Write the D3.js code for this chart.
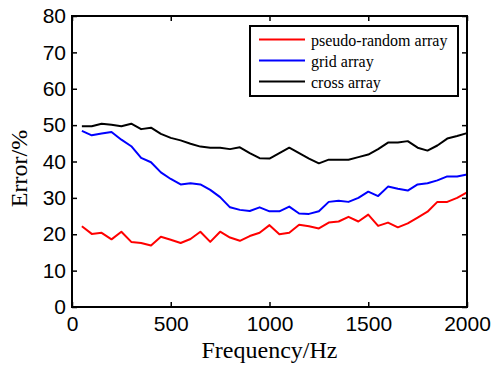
<!DOCTYPE html>
<html>
<head>
<meta charset="utf-8">
<script src="https://cdn.jsdelivr.net/npm/d3@7"></script>
<style>
  html, body { margin: 0; padding: 0; background: #fff; }
  svg { display: block; }
</style>
</head>
<body>
<svg id="chart" width="491" height="366"></svg>
<script>
// frequencies (Hz), one point every 50 Hz
const freqs = d3.range(50, 2001, 50)

const pseudoRandom = [
  22.2, 20.1, 20.4, 18.6, 20.7, 17.9, 17.6, 16.9, 19.3, 18.5,
  17.6, 18.7, 20.7, 17.9, 20.7, 19.1, 18.2, 19.5, 20.4, 22.5,
  20.0, 20.4, 22.6, 22.2, 21.6, 23.2, 23.5, 24.8, 23.5, 25.4,
  22.3, 23.2, 21.9, 23.0, 24.6, 26.2, 28.9, 28.9, 30.0, 31.5
]
const gridArray = [
  48.4, 47.2, 47.7, 48.1, 46.0, 44.2, 41.0, 39.8, 37.0, 35.2,
  33.7, 34.0, 33.7, 32.2, 30.2, 27.4, 26.7, 26.4, 27.4, 26.3,
  26.3, 27.6, 25.7, 25.6, 26.3, 28.9, 29.2, 28.9, 30.0, 31.7,
  30.5, 33.1, 32.5, 32.0, 33.7, 34.0, 34.8, 35.9, 35.9, 36.4
]
const crossArray = [
  49.7, 49.7, 50.4, 50.1, 49.7, 50.4, 48.9, 49.3, 47.6, 46.5,
  45.8, 44.9, 44.1, 43.8, 43.8, 43.4, 43.9, 42.3, 40.9, 40.8,
  42.3, 43.8, 42.3, 40.8, 39.5, 40.5, 40.5, 40.5, 41.2, 41.9,
  43.4, 45.2, 45.2, 45.6, 43.8, 43.0, 44.4, 46.3, 47.0, 47.8
]

const seriesNames = ['pseudo-random array', 'grid array', 'cross array']
const seriesColors = ['#ff0000', '#0000ff', '#000000']
const xTicks = [0, 500, 1000, 1500, 2000]
const yTicks = [0, 10, 20, 30, 40, 50, 60, 70, 80]

const margin = { left: 72, right: 24, top: 16, bottom: 59 }
const width = 491, height = 366

const svg = d3.select('#chart')

const x = d3.scaleLinear().domain([0, 2000]).range([margin.left, width - margin.right])
const y = d3.scaleLinear().domain([0, 80]).range([height - margin.bottom, margin.top])

const tickFont = '"Liberation Sans", Arial, sans-serif'
const serif = '"Liberation Serif", "Times New Roman", serif'

// data lines
const series = [pseudoRandom, gridArray, crossArray]
const line = d3.line()
  .x((d, i) => x(freqs[i]))
  .y(d => y(d))

svg.append('g')
  .selectAll('path')
  .data(series)
  .join('path')
  .attr('d', d => line(d))
  .attr('fill', 'none')
  .attr('stroke', (d, i) => seriesColors[i])
  .attr('stroke-width', 2)
  .attr('stroke-linejoin', 'round')

// axes (MATLAB style: ticks inward, box)
const axisStyle = g => {
  g.select('.domain').remove()
  g.selectAll('.tick line').attr('stroke', '#000').attr('stroke-width', 1.5)
  g.selectAll('.tick text')
    .attr('font-family', tickFont)
    .attr('font-size', 21)
    .attr('fill', '#000')
}

svg.append('g')
  .attr('transform', `translate(0,${y(0)})`)
  .call(d3.axisBottom(x).tickValues(xTicks).tickSize(-5).tickPadding(9).tickFormat(d3.format('d')))
  .call(axisStyle)

svg.append('g')
  .attr('transform', `translate(0,${y(80)})`)
  .call(d3.axisTop(x).tickValues(xTicks).tickSize(-5).tickFormat(''))
  .call(axisStyle)

svg.append('g')
  .attr('transform', `translate(${x(0)},0)`)
  .call(d3.axisLeft(y).tickValues(yTicks).tickSize(-5).tickPadding(6))
  .call(axisStyle)

svg.append('g')
  .attr('transform', `translate(${x(2000)},0)`)
  .call(d3.axisRight(y).tickValues(yTicks).tickSize(-5).tickFormat(''))
  .call(axisStyle)

svg.append('rect')
  .attr('x', x(0))
  .attr('y', y(80))
  .attr('width', x(2000) - x(0))
  .attr('height', y(0) - y(80))
  .attr('fill', 'none')
  .attr('stroke', '#000')
  .attr('stroke-width', 2)

// axis labels
svg.append('text')
  .attr('x', (x(0) + x(2000)) / 2)
  .attr('y', 358)
  .attr('text-anchor', 'middle')
  .attr('font-family', serif)
  .attr('font-size', 24)
  .text('Frequency/Hz')

svg.append('text')
  .attr('transform', `translate(27,${y(40) + 7}) rotate(-90)`)
  .attr('text-anchor', 'middle')
  .attr('font-family', serif)
  .attr('font-size', 24)
  .text('Error/%')

// legend
const legend = svg.append('g').attr('transform', 'translate(250,26)')
legend.append('rect')
  .attr('width', 208)
  .attr('height', 70)
  .attr('fill', '#fff')
  .attr('stroke', '#000')
  .attr('stroke-width', 2)

const rows = legend.selectAll('g.row')
  .data(seriesNames)
  .join('g')
  .attr('class', 'row')
  .attr('transform', (d, i) => `translate(0,${13.5 + i * 21})`)

rows.append('line')
  .attr('x1', 9)
  .attr('x2', 55)
  .attr('stroke', (d, i) => seriesColors[i])
  .attr('stroke-width', 2)

rows.append('text')
  .attr('x', 61)
  .attr('y', 6)
  .attr('font-family', serif)
  .attr('font-size', 16)
  .text(d => d)
</script>
</body>
</html>
